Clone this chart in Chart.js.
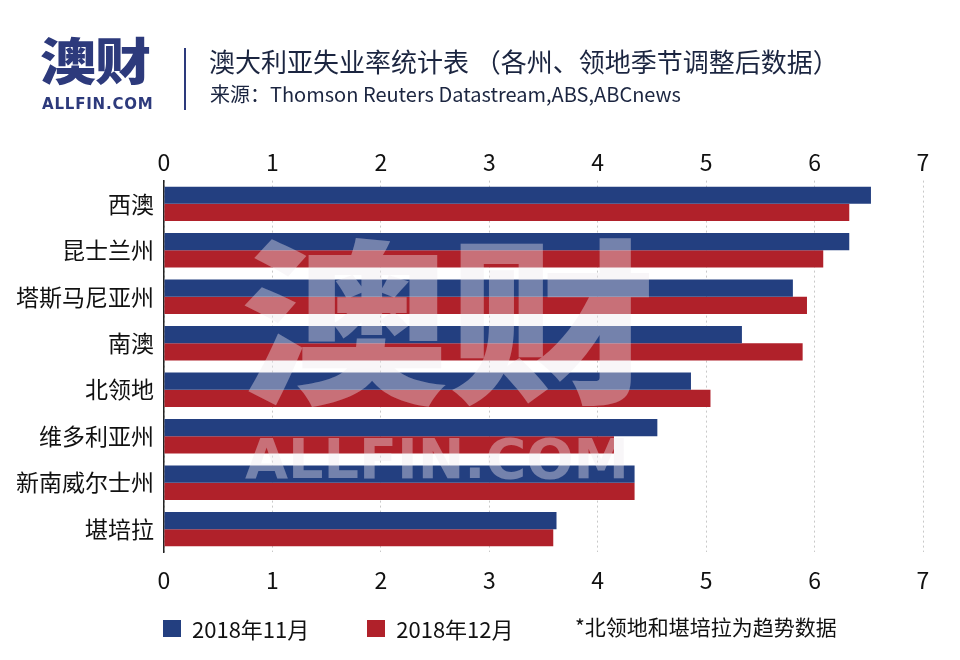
<!DOCTYPE html>
<html><head><meta charset="utf-8">
<script src="https://cdn.jsdelivr.net/npm/chart.js@4"></script>
<style>
html,body{margin:0;padding:0;background:#fff;}
#wrap{position:relative;width:960px;height:660px;overflow:hidden;font-family:"Noto Sans CJK SC","Noto Sans",sans-serif;}
canvas{position:absolute;left:0;top:0;}
.abs{position:absolute;white-space:nowrap;}
#logo{left:40px;top:33px;font-size:50px;font-weight:900;color:#2d3a7c;line-height:50px;transform:scaleX(1.12);transform-origin:0 0;letter-spacing:-1px;}
#logo2{left:42px;top:95px;font-family:"DejaVu Sans",sans-serif;font-size:15px;font-weight:bold;color:#2d3a7c;letter-spacing:0.8px;}
#sep{left:184px;top:48px;width:2px;height:62px;background:#2d3a7c;}
#title{left:209px;top:42px;font-size:26px;color:#1b2540;}
#src{left:210px;top:79px;font-size:20px;color:#1b2540;}
#legend{left:163px;top:612px;height:32px;font-size:22px;color:#111;display:flex;align-items:center;}
.li{display:flex;align-items:center;margin-right:58px;}
.sw{width:18px;height:17px;margin-right:11px;}
#note{left:575px;top:611px;font-size:21px;color:#111;}
</style></head>
<body><div id="wrap">
<canvas id="c" width="960" height="660"></canvas>
<div class="abs" id="logo">澳财</div>
<div class="abs" id="logo2">ALLFIN.COM</div>
<div class="abs" id="sep"></div>
<div class="abs" id="title">澳大利亚失业率统计表 （各州、领地季节调整后数据）</div>
<div class="abs" id="src">来源：Thomson Reuters Datastream,ABS,ABCnews</div>
<div class="abs" id="legend"></div>
<div class="abs" id="note">*北领地和堪培拉为趋势数据</div>
</div>
<script>
const categories = ["西澳","昆士兰州","塔斯马尼亚州","南澳","北领地","维多利亚州","新南威尔士州","堪培拉"];
const nov2018 = [6.52, 6.32, 5.8, 5.33, 4.86, 4.55, 4.34, 3.62];
const dec2018 = [6.32, 6.08, 5.93, 5.89, 5.04, 4.15, 4.34, 3.59];
const seriesNames = ["2018年11月","2018年12月"];
const seriesColors = ["#233f80","#b0212a"];
const axisMin = 0, axisMax = 7;

const legend = document.getElementById('legend');
seriesNames.forEach((n,i)=>{
  const d=document.createElement('div');d.className='li';
  const s=document.createElement('div');s.className='sw';s.style.background=seriesColors[i];
  const t=document.createElement('span');t.textContent=n;
  d.appendChild(s);d.appendChild(t);legend.appendChild(d);
});

const watermark = {
  id:'watermark',
  afterDatasetsDraw(chart){
    const ctx=chart.ctx;ctx.save();
    ctx.fillStyle='rgba(238,232,238,0.40)';
    ctx.textBaseline='alphabetic';ctx.textAlign='left';
    ctx.font='900 200px "Noto Sans CJK SC"';
    const w=ctx.measureText('澳财').width;
    ctx.save();ctx.translate(240,390);ctx.scale(416/w,0.885);ctx.fillText('澳财',0,0);ctx.restore();
    ctx.font='bold 56px "DejaVu Sans"';
    const w2=ctx.measureText('ALLFIN.COM').width;
    ctx.save();ctx.translate(245,478);ctx.scale(384/w2,1);ctx.fillText('ALLFIN.COM',0,0);ctx.restore();
    ctx.restore();
  }
};

const tickFont={family:'"Noto Sans CJK SC"',size:23};
new Chart(document.getElementById('c'),{
  type:'bar',
  data:{labels:categories,datasets:[
    {label:seriesNames[0],data:nov2018,backgroundColor:seriesColors[0],categoryPercentage:0.74,barPercentage:1.0},
    {label:seriesNames[1],data:dec2018,backgroundColor:seriesColors[1],categoryPercentage:0.74,barPercentage:1.0}
  ]},
  options:{
    indexAxis:'y',responsive:false,animation:false,
    layout:{padding:{left:0,right:37,top:143,bottom:52}},
    plugins:{legend:{display:false},tooltip:{enabled:false}},
    scales:{
      x:{position:'bottom',min:axisMin,max:axisMax,
        ticks:{stepSize:1,font:tickFont,color:'#111',padding:14},
        grid:{color:'#c8c8c8',drawTicks:false,lineWidth:1},
        border:{display:false,dash:[2,3]}},
      x2:{position:'top',axis:'x',min:axisMin,max:axisMax,
        ticks:{stepSize:1,font:tickFont,color:'#111',padding:5},
        grid:{display:false,drawTicks:false},border:{display:false}},
      y:{ticks:{font:tickFont,color:'#111',padding:10},
        grid:{display:false,drawTicks:false},
        border:{display:true,color:'#222',width:1.5},
        afterFit(s){s.width=164;}}
    }
  },
  plugins:[watermark]
});
</script>
</body></html>
